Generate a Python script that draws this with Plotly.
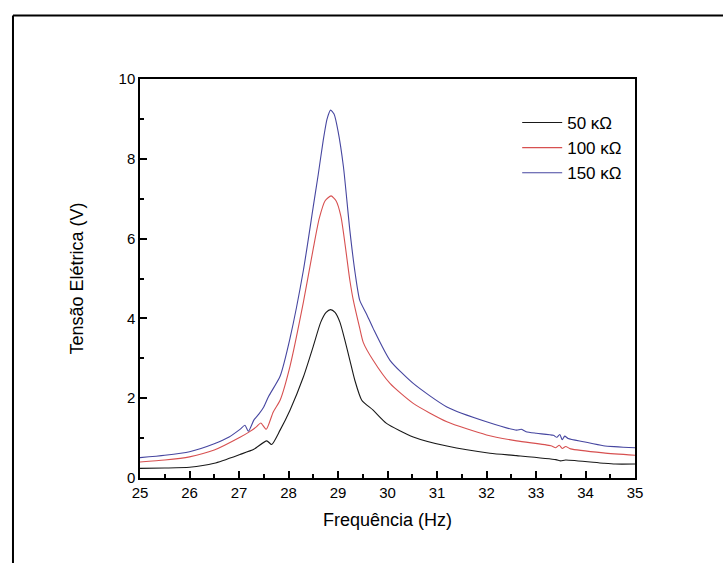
import plotly.graph_objects as go

# Frequency (Hz) and voltage (V)
f_150 = [25.0, 25.5, 26.0, 26.5, 26.8, 27.02, 27.12, 27.19, 27.3, 27.4, 27.5, 27.6, 27.83, 28.03,
         28.3, 28.5, 28.6, 28.7, 28.78, 28.85, 28.92, 29.0, 29.11, 29.24, 29.35, 29.44, 29.58,
         29.71, 30.05, 30.52, 31.2, 32.0, 32.61, 32.7, 32.8, 33.01, 33.35, 33.42, 33.48,
         33.53, 33.58, 33.65, 33.96, 34.36, 35.0]
v_150 = [0.51, 0.57, 0.66, 0.86, 1.03, 1.22, 1.32, 1.17, 1.45, 1.60, 1.78, 2.05, 2.55, 3.5,
         5.2, 6.8, 7.6, 8.45, 9.0, 9.22, 9.12, 8.7, 7.8, 6.2, 5.1, 4.45, 4.1,
         3.75, 2.95, 2.37, 1.78, 1.41, 1.2, 1.22, 1.16, 1.12, 1.07, 1.02, 1.09,
         0.96, 1.05, 0.99, 0.91, 0.81, 0.76]

f_100 = [25.0, 25.5, 26.0, 26.5, 27.02, 27.2, 27.35, 27.44, 27.55, 27.69, 27.83, 28.03, 28.3,
         28.5, 28.62, 28.74, 28.86, 28.96, 29.06, 29.24, 29.31, 29.44, 29.51, 29.71, 30.05, 30.52,
         31.2, 32.0, 32.61, 33.3, 33.4, 33.47, 33.53, 33.6, 33.7, 34.36, 35.0]
v_100 = [0.40, 0.45, 0.53, 0.70, 1.02, 1.15, 1.28, 1.38, 1.22, 1.65, 1.95, 2.8, 4.4,
         5.75, 6.5, 6.95, 7.07, 6.95, 6.55, 4.95, 4.45, 3.75, 3.4, 2.95, 2.37, 1.87,
         1.41, 1.08, 0.93, 0.81, 0.76, 0.82, 0.74, 0.79, 0.73, 0.63, 0.57]

f_50 = [25.0, 25.5, 26.0, 26.5, 27.02, 27.3, 27.56, 27.66, 27.83, 28.03, 28.3, 28.5, 28.65,
        28.76, 28.85, 28.94, 29.04, 29.14, 29.24, 29.34, 29.48, 29.71, 29.98, 30.52, 31.2,
        32.07, 32.61, 33.4, 33.5, 33.6, 34.36, 34.6, 35.0]
v_50 = [0.24, 0.25, 0.27, 0.37, 0.59, 0.72, 0.93, 0.84, 1.2, 1.7, 2.53, 3.3, 3.9,
        4.15, 4.22, 4.15, 3.9, 3.45, 2.95, 2.45, 1.95, 1.7, 1.37, 1.03, 0.8,
        0.62, 0.56, 0.46, 0.43, 0.45, 0.37, 0.35, 0.35]

names = ["50 κΩ", "100 κΩ", "150 κΩ"]
colors = ["rgb(25,25,25)", "rgb(215,80,80)", "rgb(70,70,160)"]

fig = go.Figure()
for x, y, n, c in zip([f_50, f_100, f_150], [v_50, v_100, v_150], names, colors):
    fig.add_trace(go.Scatter(x=x, y=y, mode="lines", name=n,
                             line=dict(color=c, width=1.1, shape="spline", smoothing=0.6)))

font = "Liberation Sans, Arial, sans-serif"
axis_common = dict(showline=True, linecolor="black", linewidth=1.5, mirror=True,
                   ticks="inside", tickcolor="black", tickwidth=1.5, ticklen=7,
                   showgrid=False, zeroline=False,
                   tickfont=dict(family=font, size=15, color="black"))

fig.update_xaxes(range=[25, 35], dtick=1, tick0=25,
                 minor=dict(ticks="inside", ticklen=4, dtick=0.5, tickcolor="black", tickwidth=1.5),
                 title=dict(text="Frequência (Hz)", font=dict(family=font, size=18, color="black"),
                            standoff=14),
                 **axis_common)
fig.update_yaxes(range=[0, 10], dtick=2, tick0=0,
                 minor=dict(ticks="inside", ticklen=4, dtick=1, tickcolor="black", tickwidth=1.5),
                 title=dict(text="Tensão Elétrica (V)", font=dict(family=font, size=18, color="black"),
                            standoff=30),
                 **axis_common)

fig.update_layout(
    width=723, height=563,
    margin=dict(l=140, r=88, t=79, b=85),
    paper_bgcolor="white", plot_bgcolor="white",
    font=dict(family=font, color="black"),
    legend=dict(x=0.762, y=0.935, xanchor="left", yanchor="top",
                bgcolor="rgba(0,0,0,0)", borderwidth=0,
                font=dict(family=font, size=17, color="black"),
                itemwidth=40, tracegroupgap=0),
    showlegend=True,
)

# frame around the figure (top and left edges visible in the reference)
fig.add_shape(type="line", xref="paper", yref="paper", x0=-0.2566, x1=1.2, y0=1.1594, y1=1.1594,
              line=dict(color="black", width=2))
fig.add_shape(type="line", xref="paper", yref="paper", x0=-0.2566, x1=-0.2566, y0=-0.3, y1=1.1594,
              line=dict(color="black", width=2))

fig.write_html("out.html")
